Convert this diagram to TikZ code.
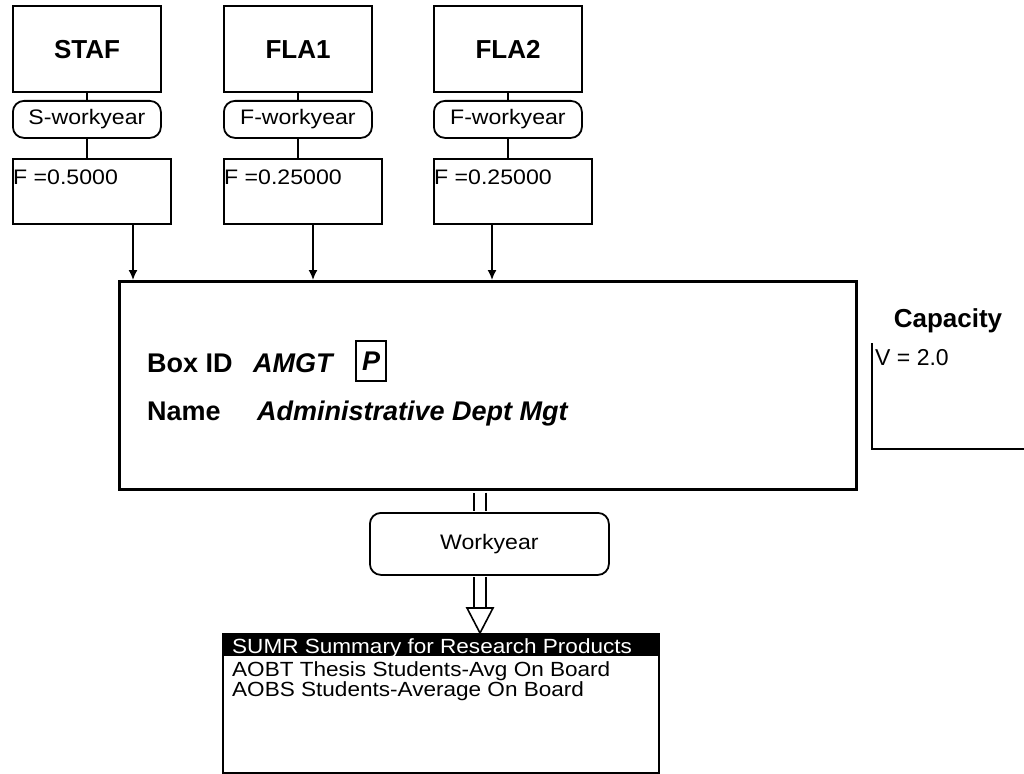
\documentclass[tikz,border=0pt]{standalone}
\usepackage{fontspec}
\setmainfont{Liberation Sans}
\newfontfamily\widefont[FakeStretch=1.1]{Liberation Sans}
\usetikzlibrary{arrows.meta,calc}

\tikzset{
  srcbox/.style={draw, line width=2.2pt, anchor=north west, inner sep=0pt,
    minimum width=148pt, minimum height=86pt, font=\fontsize{26}{26}\selectfont\bfseries},
  pill/.style={draw, line width=1.8pt, rounded corners=11pt, anchor=north west, inner sep=0pt,
    minimum width=148pt, minimum height=37pt, font=\widefont\fontsize{21}{21}\selectfont},
  valbox/.style={draw, line width=2.2pt, anchor=north west, inner sep=0pt,
    minimum width=158pt, minimum height=65pt},
  txt/.style={anchor=base west, inner sep=0pt, font=\widefont\fontsize{21}{21}\selectfont},
  big/.style={anchor=base west, inner sep=0pt, font=\fontsize{27}{27}\selectfont\bfseries},
  link/.style={line width=1.6pt},
  feed/.style={line width=1.6pt, -{Latex[length=10pt,width=9pt]}},
  pipe/.style={line width=1.6pt, double, double distance=10.5pt},
}

\begin{document}
\begin{tikzpicture}[x=1pt, y=-1pt]
            \useasboundingbox (0,0) rectangle (1024,773);

            % main process box
            \node[draw, line width=3pt, anchor=north west, inner sep=0pt,
                  minimum width=737pt, minimum height=208pt] (amgt) at (118,280) {};
            \node[big] (boxid) at (147,372) {Box ID};
            \node[big, font=\fontsize{27}{27}\selectfont\bfseries\itshape] (amgtid) at (253,372) {AMGT};
            \node[draw, line width=2pt, anchor=north west, inner sep=0pt, minimum width=30pt,
                  minimum height=40pt, font=\fontsize{27}{27}\selectfont\bfseries\itshape] (ptag) at (355,340) {P};
            \node[big] (name) at (147,420) {Name};
            \node[big, font=\fontsize{27}{27}\selectfont\bfseries\itshape] (amgtname) at (257,420) {Administrative Dept Mgt};

            % inputs
            \foreach \x/\src/\pre/\fval/\ax [count=\i] in {12/STAF/S/0.5000/133, 223/FLA1/F/0.25000/313, 433/FLA2/F/0.25000/492} {
                \node[srcbox] (src\i) at (\x,5) {\src};
                \node[pill] (pill\i) at (\x,100) {\pre-workyear};
                \node[valbox] (val\i) at (\x,158) {};
                \node[txt] (fval\i) at ($(val\i.north west)+(1,26)$) {F =\fval};
                \draw[link] (src\i) -- (pill\i);
                \draw[link] (pill\i) -- (val\i.north -| pill\i);
                \draw[feed] (val\i.south -| \ax,0) -- (amgt.north -| \ax,0);
            }

            % capacity
            \node[big, anchor=base, font=\fontsize{26}{26}\selectfont\bfseries] (cap) at (948,327) {Capacity};
            \node[txt, font=\fontsize{23}{23}\selectfont] (capv) at (875,365) {V = 2.0};
            \draw[line width=2pt] (872,343) |- (1024,449);

            % output
            \node[pill, minimum width=239pt, minimum height=62pt] (wy) at (369,512) {Workyear};
            \node[draw, line width=2pt, anchor=north west, inner sep=0pt,
                  minimum width=436pt, minimum height=139pt] (list) at (222,633) {};
            \fill (list.north west) rectangle ($(list.north east)+(0,23)$);
            \node[txt, text=white, font=\widefont\fontsize{20.5}{20.5}\selectfont] (sumr) at (232,653) {SUMR Summary for Research Products};
            \node[txt, font=\widefont\fontsize{20.5}{20.5}\selectfont] (aobt) at (232,676) {AOBT Thesis Students-Avg On Board};
            \node[txt, font=\widefont\fontsize{20.5}{20.5}\selectfont] (aobs) at (232,696) {AOBS Students-Average On Board};

            \coordinate (pipe) at (480,0);
            \coordinate (head) at ($(list.north -| pipe)+(0,-25)$);
            \draw[pipe] ($(amgt.south -| pipe)+(0,1.5)$) -- ($(wy.north -| pipe)+(0,-1)$);
            \draw[pipe] ($(wy.south -| pipe)+(0,1)$) -- (head);
            \draw[link, fill=white, line join=miter] ($(head)+(-13,0)$) -- ($(head)+(13,0)$) -- (list.north -| pipe) -- cycle;
        \end{tikzpicture}
\end{document}
